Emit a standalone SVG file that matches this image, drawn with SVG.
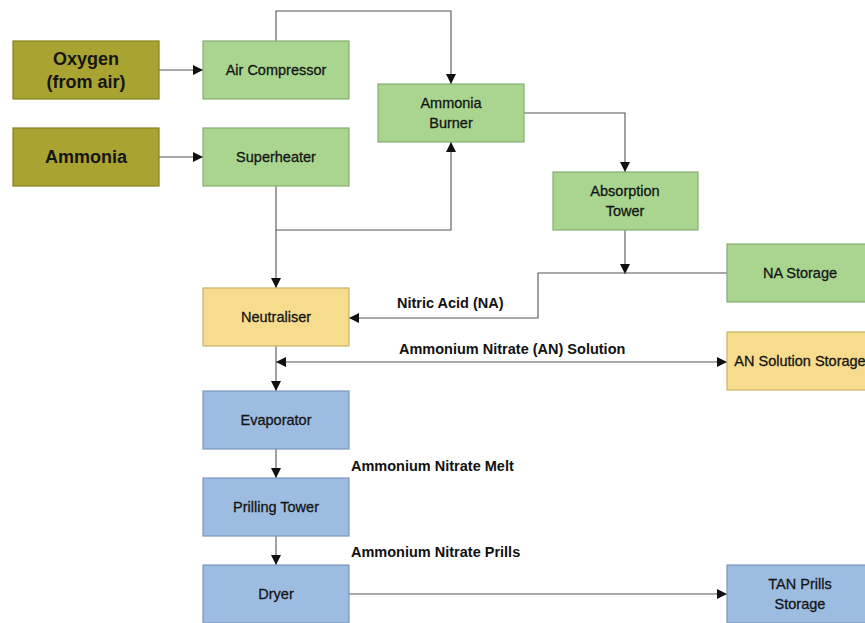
<svg xmlns="http://www.w3.org/2000/svg" width="865" height="623" viewBox="0 0 865 623">
  <style>
    .box { stroke-width: 1.2; }
    .olive { fill: #a9a431; stroke: #858120; }
    .green { fill: #a9d58f; stroke: #86ad72; }
    .yellow { fill: #f7dc8d; stroke: #c9b266; }
    .blue { fill: #9dbce2; stroke: #7b98bd; }
    .lbl { font-family: "Liberation Sans", Arial, sans-serif; font-size: 14.5px; fill: #151515; stroke: #151515; stroke-width: 0.3; text-anchor: middle; }
    .big { font-family: "Liberation Sans", Arial, sans-serif; font-size: 18px; font-weight: bold; fill: #151515; text-anchor: middle; }
    .flow { font-family: "Liberation Sans", Arial, sans-serif; font-size: 14.5px; font-weight: bold; fill: #111; }
    .edge { fill: none; stroke: #555; stroke-width: 1.1; }
  </style>
  <defs>
    <marker id="arr" viewBox="0 0 10 10" refX="10" refY="5" markerWidth="10" markerHeight="10" markerUnits="userSpaceOnUse" orient="auto-start-reverse">
      <path d="M0,0 L10,5 L0,10 Z" fill="#111"/>
    </marker>
  </defs>
  <rect width="865" height="623" fill="#ffffff"/>

  <g id="connectors">
    <path class="edge" d="M159,70 H203" marker-end="url(#arr)"/>
    <path class="edge" d="M159,157 H203" marker-end="url(#arr)"/>
    <path class="edge" d="M276,41 V11 H451 V84" marker-end="url(#arr)"/>
    <path class="edge" d="M276,186 V230 H451 V142" marker-end="url(#arr)"/>
    <path class="edge" d="M276,230 V288" marker-end="url(#arr)"/>
    <path class="edge" d="M524,113 H625 V172" marker-end="url(#arr)"/>
    <path class="edge" d="M625,230 V274" marker-end="url(#arr)"/>
    <path class="edge" d="M727,273 H538 V318 H349" marker-end="url(#arr)"/>
    <path class="edge" d="M276,346 V391" marker-end="url(#arr)"/>
    <path class="edge" d="M276,362 H727" marker-start="url(#arr)" marker-end="url(#arr)"/>
    <path class="edge" d="M276,449 V478" marker-end="url(#arr)"/>
    <path class="edge" d="M276,536 V565" marker-end="url(#arr)"/>
    <path class="edge" d="M349,594 H727" marker-end="url(#arr)"/>
    <text class="flow" x="397" y="308">Nitric Acid (NA)</text>
    <text class="flow" x="399" y="354">Ammonium Nitrate (AN) Solution</text>
    <text class="flow" x="351" y="471">Ammonium Nitrate Melt</text>
    <text class="flow" x="351" y="557">Ammonium Nitrate Prills</text>
  </g>

  <g id="oxygen">
    <rect class="box olive" x="13" y="41" width="146" height="58"/>
    <text class="big" x="86" y="65">Oxygen</text>
    <text class="big" x="86" y="88">(from air)</text>
  </g>
  <g id="ammonia">
    <rect class="box olive" x="13" y="128" width="146" height="58"/>
    <text class="big" x="86" y="163">Ammonia</text>
  </g>
  <g id="air-compressor">
    <rect class="box green" x="203" y="41" width="146" height="58"/>
    <text class="lbl" x="276" y="75">Air Compressor</text>
  </g>
  <g id="superheater">
    <rect class="box green" x="203" y="128" width="146" height="58"/>
    <text class="lbl" x="276" y="162">Superheater</text>
  </g>
  <g id="ammonia-burner">
    <rect class="box green" x="378" y="84" width="146" height="58"/>
    <text class="lbl" x="451" y="108">Ammonia</text>
    <text class="lbl" x="451" y="128">Burner</text>
  </g>
  <g id="absorption-tower">
    <rect class="box green" x="553" y="172" width="145" height="58"/>
    <text class="lbl" x="625" y="196">Absorption</text>
    <text class="lbl" x="625" y="216">Tower</text>
  </g>
  <g id="na-storage">
    <rect class="box green" x="727" y="244" width="146" height="58"/>
    <text class="lbl" x="800" y="278">NA Storage</text>
  </g>
  <g id="neutraliser">
    <rect class="box yellow" x="203" y="288" width="146" height="58"/>
    <text class="lbl" x="276" y="322">Neutraliser</text>
  </g>
  <g id="an-solution-storage">
    <rect class="box yellow" x="727" y="332" width="146" height="58"/>
    <text class="lbl" x="800" y="366">AN Solution Storage</text>
  </g>
  <g id="evaporator">
    <rect class="box blue" x="203" y="391" width="146" height="58"/>
    <text class="lbl" x="276" y="425">Evaporator</text>
  </g>
  <g id="prilling-tower">
    <rect class="box blue" x="203" y="478" width="146" height="58"/>
    <text class="lbl" x="276" y="512">Prilling Tower</text>
  </g>
  <g id="dryer">
    <rect class="box blue" x="203" y="565" width="146" height="58"/>
    <text class="lbl" x="276" y="599">Dryer</text>
  </g>
  <g id="tan-prills-storage">
    <rect class="box blue" x="727" y="565" width="146" height="58"/>
    <text class="lbl" x="800" y="589">TAN Prills</text>
    <text class="lbl" x="800" y="609">Storage</text>
  </g>
</svg>
